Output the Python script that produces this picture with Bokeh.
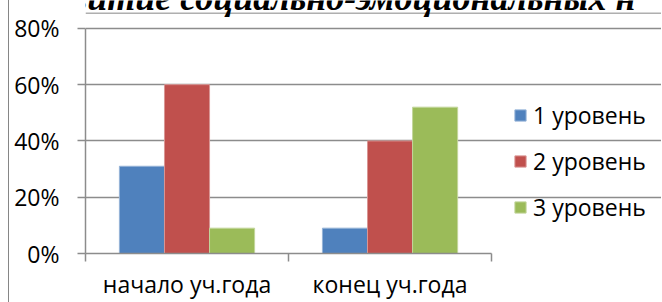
from bokeh.plotting import figure
from bokeh.models import (Range1d, FixedTicker, NumeralTickFormatter, Legend,
                          LegendItem, ColumnDataSource, Span, Label)
from bokeh.embed import file_html
from bokeh.resources import INLINE

title_text = "«Развитие социально-эмоциональных н"
categories = ["начало уч.года", "конец уч.года"]
series_names = ["1 уровень", "2 уровень", "3 уровень"]
level1 = [0.31, 0.09]
level2 = [0.60, 0.40]
level3 = [0.09, 0.52]
y_ticks = [0, 0.2, 0.4, 0.6, 0.8]

colors = ["#4F81BD", "#C0504D", "#9BBB59"]
edge_colors = ["#95B3D7", "#D99694", "#C3D69B"]
GRAY = "#8C8C8C"
FONT = "Open Sans"
FS = "23px"

bar_width = 0.222
offsets = [-bar_width, 0.0, bar_width]
n = len(categories)
y_max = max(y_ticks)

# the plotting frame also covers the legend area (right) and the title strip (top)
x_view_end = 2.842
y_view_end = 0.899
border_y = 0.854      # top edge of the chart-area border
title_x = -0.419      # title starts at the left edge of the picture
title_y = 0.909       # title sits mostly above the top of the picture

p = figure(width=653, height=302, output_backend="svg", toolbar_location=None,
           x_range=Range1d(0, x_view_end), y_range=Range1d(0, y_view_end),
           min_border_left=76, min_border_right=0, min_border_top=0,
           min_border_bottom=48, background_fill_color="white",
           border_fill_color="white",
           styles={"margin-left": "8px",
                   "border-left": "1px solid #868686"})
p.outline_line_color = None

centers = [i + 0.5 for i in range(n)]
items = []
for j, (name, vals) in enumerate(zip(series_names, [level1, level2, level3])):
    src = ColumnDataSource(dict(x=[c + offsets[j] for c in centers], top=vals))
    r = p.vbar(x="x", top="top", width=bar_width, source=src,
               fill_color=colors[j], line_color=edge_colors[j], line_width=1)
    items.append(LegendItem(label=name, renderers=[r]))

# x axis: labels at category centers, tick marks at category boundaries
p.xaxis.ticker = FixedTicker(ticks=centers, minor_ticks=list(range(n + 1)))
p.xaxis.major_label_overrides = {c: cat for c, cat in zip(centers, categories)}
p.xaxis.bounds = (0, n)
p.xaxis.major_tick_out = 0
p.xaxis.major_tick_in = 0
p.xaxis.minor_tick_out = 8
p.xaxis.minor_tick_in = 0
p.xaxis.minor_tick_line_color = GRAY
p.xaxis.minor_tick_line_width = 1.5
p.xaxis.major_label_standoff = 6
p.xgrid.visible = False

p.yaxis.ticker = FixedTicker(ticks=y_ticks)
p.yaxis.formatter = NumeralTickFormatter(format="0%")
p.yaxis.bounds = (0, y_max)
p.yaxis.major_tick_out = 8
p.yaxis.major_tick_in = 0
p.yaxis.minor_tick_out = 0
p.yaxis.minor_tick_in = 0
p.yaxis.major_tick_line_color = GRAY
p.yaxis.major_tick_line_width = 1.5
p.yaxis.major_label_standoff = 18

for ax in (p.xaxis, p.yaxis):
    ax.axis_line_color = GRAY
    ax.axis_line_width = 1.5
    ax.major_label_text_font = FONT
    ax.major_label_text_font_size = FS
    ax.major_label_text_color = "black"

p.ygrid.grid_line_color = GRAY
p.ygrid.grid_line_width = 1.5
p.ygrid.bounds = (0, n)

legend = Legend(items=items, location=(428, 30), padding=0, margin=0,
                border_line_color=None, background_fill_alpha=0,
                glyph_width=14, glyph_height=14, label_height=30,
                label_standoff=6, spacing=14, label_text_font=FONT,
                label_text_font_size=FS, label_text_color="black")
p.add_layout(legend)

# top edge of the chart-area border
p.add_layout(Span(location=border_y, dimension="width",
                  line_color="#868686", line_width=1))

# chart title, cut off by the top edge as in the source picture
p.add_layout(Label(x=title_x, y=title_y, text=title_text,
                   text_font="Liberation Serif", text_font_style="bold italic",
                   text_font_size="36px", text_color="black",
                   text_align="left", text_baseline="alphabetic"))

open("out.html", "w").write(file_html(p, INLINE))
